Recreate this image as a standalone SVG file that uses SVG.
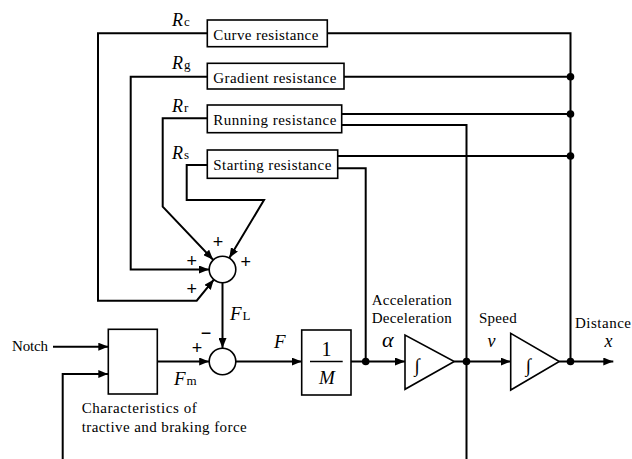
<svg xmlns="http://www.w3.org/2000/svg" width="632" height="459" viewBox="0 0 632 459">
<style>
.ln{fill:none;stroke:#000;stroke-width:2}
.bx{fill:#fff;stroke:#000;stroke-width:1.6}
.t{font-family:"Liberation Serif","Times New Roman",serif;font-size:15px;fill:#000}
.it{font-family:"Liberation Serif","Times New Roman",serif;font-style:italic;font-size:18px;fill:#000}
.sb{font-family:"Liberation Serif","Times New Roman",serif;font-size:13px;fill:#000}
.pm{font-family:"Liberation Sans",Arial,sans-serif;font-size:18px;fill:#000;text-anchor:middle}
.dot{fill:#000}
</style>
<defs>
<marker id="ar" markerUnits="userSpaceOnUse" markerWidth="10" markerHeight="8" refX="10" refY="4" orient="auto">
<path d="M0,0 L10,4 L0,8 z" fill="#000"/>
</marker>
</defs>
<g id="connectors">
<path class="ln" d="M207,33.3 H98 V300.7 H196.7 L213.9,279.6" marker-end="url(#ar)"/>
<path class="ln" d="M327,33.3 H570.5 V361.5"/>
<path class="ln" d="M207,76.7 H130.7 V269.5 H209" marker-end="url(#ar)"/>
<path class="ln" d="M344,76.7 H570.5"/>
<path class="ln" d="M207,118.3 H162.7 V206.7 L213.1,259.7" marker-end="url(#ar)"/>
<path class="ln" d="M341.7,114 H570.5"/>
<path class="ln" d="M341.7,125 H466.5 V459"/>
<path class="ln" d="M207,165 H186.7 V200 H264 L229.3,257.9" marker-end="url(#ar)"/>
<path class="ln" d="M337.7,156 H570.5"/>
<path class="ln" d="M337.7,168.3 H365.7 V361.5"/>
<path class="ln" d="M222.5,282.8 V348" marker-end="url(#ar)"/>
<path class="ln" d="M53,346.7 H108.3" marker-end="url(#ar)"/>
<path class="ln" d="M62.7,459 V374 H108.3" marker-end="url(#ar)"/>
<path class="ln" d="M157.3,361.5 H209.2" marker-end="url(#ar)"/>
<path class="ln" d="M235.8,361.5 H301.7" marker-end="url(#ar)"/>
<path class="ln" d="M351,361.5 H405" marker-end="url(#ar)"/>
<path class="ln" d="M454.3,361.5 H510.7" marker-end="url(#ar)"/>
<path class="ln" d="M559.3,361.5 H613.3" marker-end="url(#ar)"/>
<circle class="dot" cx="570.5" cy="76.7" r="3.8"/>
<circle class="dot" cx="570.5" cy="114" r="3.8"/>
<circle class="dot" cx="570.5" cy="156" r="3.8"/>
<circle class="dot" cx="365.7" cy="361.5" r="3.8"/>
<circle class="dot" cx="466.5" cy="361.5" r="3.8"/>
<circle class="dot" cx="570.5" cy="361.5" r="3.8"/>
</g>
<g id="curve">
<rect class="bx" x="207.3" y="20" width="120" height="26.7"/>
<text class="t" x="213.3" y="40" textLength="105" lengthAdjust="spacing">Curve resistance</text>
</g>
<g id="gradient">
<rect class="bx" x="207.3" y="63.3" width="136.7" height="25.7"/>
<text class="t" x="213.3" y="82.5" textLength="123" lengthAdjust="spacing">Gradient resistance</text>
</g>
<g id="running">
<rect class="bx" x="207.3" y="105" width="134.4" height="27.7"/>
<text class="t" x="213.3" y="124.5" textLength="123" lengthAdjust="spacing">Running resistance</text>
</g>
<g id="starting">
<rect class="bx" x="207.3" y="150" width="130.4" height="28.3"/>
<text class="t" x="213.3" y="169.5" textLength="118" lengthAdjust="spacing">Starting resistance</text>
</g>
<g id="labels-R">
<text x="172" y="26"><tspan class="it">R</tspan><tspan class="sb" dx="1">c</tspan></text>
<text x="172" y="69"><tspan class="it">R</tspan><tspan class="sb" dx="1">g</tspan></text>
<text x="172" y="112"><tspan class="it">R</tspan><tspan class="sb" dx="1">r</tspan></text>
<text x="172" y="159"><tspan class="it">R</tspan><tspan class="sb" dx="1">s</tspan></text>
</g>
<g id="sum1">
<circle class="bx" cx="222.5" cy="269.5" r="13.3"/>
<text class="pm" x="218" y="248">+</text>
<text class="pm" x="191.7" y="267">+</text>
<text class="pm" x="245.7" y="268">+</text>
<text class="pm" x="191.7" y="294.5">+</text>
</g>
<g id="sum2">
<circle class="bx" cx="222.5" cy="361.5" r="13.3"/>
<text class="pm" x="206" y="339">−</text>
<text class="pm" x="197" y="354">+</text>
<text x="230" y="320"><tspan class="it" style="font-size:19px">F</tspan><tspan class="sb" dx="1">L</tspan></text>
</g>
<g id="characteristics">
<rect class="bx" x="108.3" y="329.3" width="49" height="64.7"/>
<text class="t" x="81.7" y="413" textLength="115" lengthAdjust="spacing">Characteristics of</text>
<text class="t" x="81.7" y="431.7" textLength="165" lengthAdjust="spacing">tractive and braking force</text>
<text x="174" y="385"><tspan class="it" style="font-size:19px">F</tspan><tspan class="sb" dx="1">m</tspan></text>
</g>
<g id="notch">
<text class="t" x="12" y="350.5" textLength="36" lengthAdjust="spacing">Notch</text>
</g>
<g id="mass">
<rect class="bx" x="301.7" y="330" width="49.3" height="65"/>
<line x1="310" y1="361.5" x2="342.7" y2="361.5" stroke="#000" stroke-width="1.6"/>
<text class="t" x="326.5" y="356" text-anchor="middle" style="font-size:20px">1</text>
<text class="it" x="327" y="384" text-anchor="middle" style="font-size:19px">M</text>
<text class="it" x="274" y="348" style="font-size:19px">F</text>
</g>
<g id="integrator1">
<path class="bx" d="M405,335 L405,389.3 L454.3,361.5 Z"/>
<text class="t" x="417" y="372" text-anchor="middle" style="font-size:19px">∫</text>
<text class="t" x="371.7" y="305" textLength="80" lengthAdjust="spacing">Acceleration</text>
<text class="t" x="371.7" y="323.3" textLength="80" lengthAdjust="spacing">Deceleration</text>
<text class="it" x="382" y="346.7" style="font-size:22px">α</text>
</g>
<g id="integrator2">
<path class="bx" d="M510.7,333.3 L510.7,390 L559.3,361.5 Z"/>
<text class="t" x="528.3" y="372" text-anchor="middle" style="font-size:19px">∫</text>
<text class="t" x="479" y="322.7" textLength="37.7" lengthAdjust="spacing">Speed</text>
<text class="it" x="487.5" y="347" style="font-size:18px">v</text>
</g>
<g id="distance">
<text class="t" x="575" y="327.7" textLength="56" lengthAdjust="spacing">Distance</text>
<text class="it" x="604.5" y="347" style="font-size:18px">x</text>
</g>
</svg>
